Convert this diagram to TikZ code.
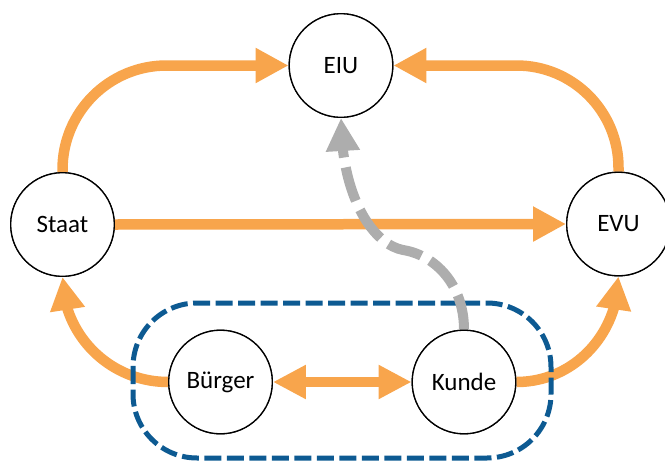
\documentclass[tikz,border=0pt]{standalone}
\usepackage{fontspec}
\setmainfont{Carlito}
\usetikzlibrary{arrows.meta,bending}
\definecolor{flow}{HTML}{F8A54C}
\definecolor{info}{HTML}{ADADAD}
\definecolor{grp}{HTML}{0D5A92}
\tikzset{
  actor/.style={circle,draw=black,line width=1.3pt,fill=white,minimum size=103.6pt,
    inner sep=0pt,font=\fontsize{25}{30}\selectfont},
  flowline/.style={draw=flow,line width=10.5pt},
  flowtip/.style={-{Triangle[length=33pt,width=33pt,flex]}},
  bothtips/.style={{Triangle[length=33pt,width=32pt]}-{Triangle[length=33pt,width=32pt]}},
  infoline/.style={draw=info,line width=10pt,dash pattern=on 35pt off 10pt,
    -{Triangle[length=33pt,width=32pt,flex]}},
  groupbox/.style={draw=grp,line width=5pt,dash pattern=on 17pt off 5.5pt,rounded corners=64pt}
}
\begin{document}
\begin{tikzpicture}[x=1pt,y=-1pt]
\useasboundingbox (0,0) rectangle (665,461);

% actors
\node[actor] (eiu)     at (341,65.5)  {EIU};
\node[actor] (staat)   at (62.5,224.5) {Staat};
\node[actor] (evu)     at (618.5,224) {EVU};
\node[actor] (buerger) at (220.5,382) {Bürger};
\node[actor] (kunde)   at (464,382)   {Kunde};

% orange flows
\draw[flowline,flowtip,rounded corners=104pt] (staat.north) |- (eiu.west);
\draw[flowline,flowtip,rounded corners=102pt] (evu.north) |- (eiu.east);
\draw[flowline,flowtip] (staat.east) -- (evu.west);
\draw[flowline,flowtip] (buerger.west) to[out=180,in=-90] (staat.south);
\draw[flowline,flowtip] (kunde.east) to[out=0,in=-90] (evu.south);
\draw[flowline,bothtips] (buerger.east) -- (kunde.west);

% group of Bürger and Kunde
\draw[groupbox] (133,303) rectangle (551,458);

% information flow, an S-bend from Kunde up to EIU
\coordinate (bend) at (403,250);
\draw[infoline] (kunde.north) .. controls +(0,-45) and +(32,5) .. (bend)
  .. controls +(-31,-6) and +(0,77) .. (eiu.south);

% redraw actors on top
\node[actor] at (eiu) {EIU};
\node[actor] at (staat) {Staat};
\node[actor] at (evu) {EVU};
\node[actor] at (buerger) {Bürger};
\node[actor] at (kunde) {Kunde};
\end{tikzpicture}
\end{document}
